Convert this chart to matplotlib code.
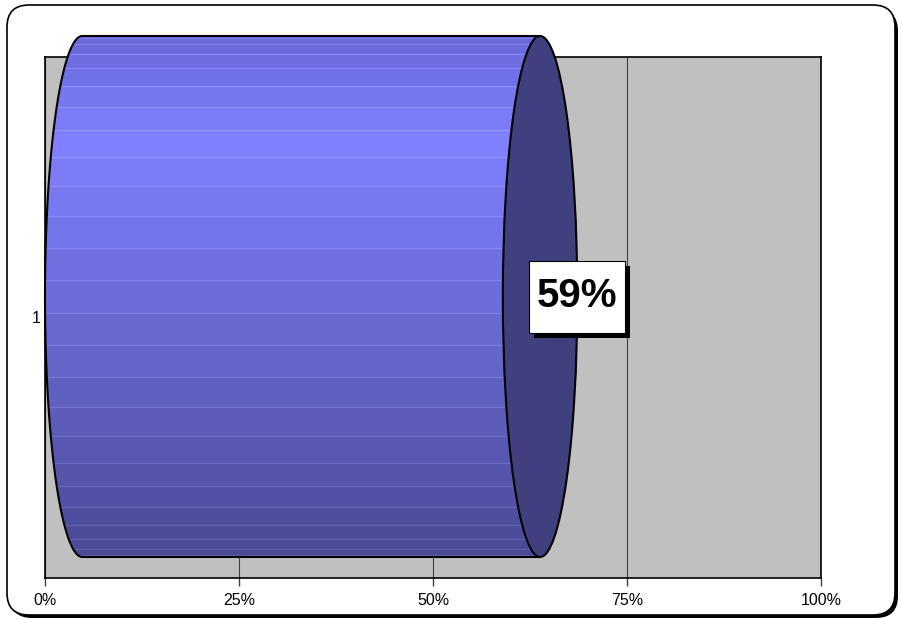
import matplotlib.pyplot as plt
import numpy as np
import matplotlib.transforms as mtransforms
from matplotlib.lines import Line2D
from matplotlib.patches import Ellipse, PathPatch, Rectangle, FancyBboxPatch
from matplotlib.path import Path

plt.rcParams['font.family'] = ['Liberation Sans', 'DejaVu Sans']

categories = ['1']
values = [0.59]
value_labels = ['59%']
x_ticks = [0, 0.25, 0.5, 0.75, 1.0]
x_ticklabels = ['0%', '25%', '50%', '75%', '100%']

fig = plt.figure(figsize=(9.01, 6.19), dpi=100)

# rounded chart border with a little shadow
shadow = FancyBboxPatch((0.10, 0.01), 8.88, 6.09, boxstyle='round,pad=0,rounding_size=0.22',
                        transform=fig.dpi_scale_trans, fc='black', ec='none', zorder=-2)
frame = FancyBboxPatch((0.07, 0.04), 8.88, 6.10, boxstyle='round,pad=0,rounding_size=0.22',
                       transform=fig.dpi_scale_trans, fc='white', ec='black', lw=1.2, zorder=-1)
fig.patches.extend([shadow, frame])

ax = fig.add_axes([0.04994, 0.06624, 0.86126, 0.84168])
ax.set_facecolor('#c0c0c0')
ax.set_xlim(0, 1)
ax.set_ylim(0.5, 1.5)
for s in ax.spines.values():
    s.set_color('black')
    s.set_linewidth(1.2)
    s.set_zorder(1.5)  # the cylinder sits in front of the plot-area border

ax.set_xticks(x_ticks, x_ticklabels)
ax.set_yticks(np.arange(1, len(categories) + 1), categories)
ax.tick_params(axis='x', direction='out', length=6, width=1, color='#404040', pad=5, labelsize=11.5)
ax.tick_params(axis='y', length=0, pad=3, labelsize=11.5)
ax.xaxis.grid(True, color='#404040', lw=0.8)
ax.set_axisbelow(True)

# 3D look: depth offset and ellipse sizes (data units)
dx, dy = 0.048, 0.0403
rx, ry = 0.048, 0.5

# gradient stops, top (0) -> bottom (1)
stops_t = [0.0, 0.2, 0.5, 0.75, 1.0]
stops_c = np.array([[104, 104, 216], [128, 128, 255], [108, 108, 218],
                    [92, 92, 184], [72, 72, 148]]) / 255.0


def shade(t):
    return [np.interp(t, stops_t, stops_c[:, k]) for k in range(3)]


for i, (v, lab) in enumerate(zip(values, value_labels)):
    cy = i + 1 + dy
    x0, x1 = dx, v + dx

    th = np.radians(np.linspace(90, 270, 80))
    verts = list(zip(x0 + rx * np.cos(th), cy + ry * np.sin(th)))
    verts += [(x1, cy - ry), (x1, cy + ry), (x0, cy + ry)]
    codes = [Path.MOVETO] + [Path.LINETO] * (len(verts) - 2) + [Path.CLOSEPOLY]
    body = PathPatch(Path(verts, codes), fc='none', ec='black', lw=1.5,
                     zorder=3, clip_on=False)
    ax.add_patch(body)

    nb = 25
    ang = np.radians(np.linspace(0, 180, nb + 1))
    for k in range(nb):
        ya = cy + ry * np.cos(ang[k])
        yb = cy + ry * np.cos(ang[k + 1])
        t = (1 - np.cos((ang[k] + ang[k + 1]) / 2)) / 2
        band = Rectangle((x0 - rx - 0.01, yb), x1 - x0 + rx + 0.02, ya - yb,
                         fc=shade(t), ec='none', zorder=2)
        band.set_clip_path(body)
        ax.add_patch(band)
        if 0 < k:
            c = np.clip(np.array(shade(t)) + 0.09, 0, 1)
            ln = Line2D([x0 - rx - 0.01, x1], [ya, ya], color=c, lw=0.9, zorder=2.5)
            ln.set_clip_path(body)
            ax.add_line(ln)

    front = Ellipse((x1, cy), 2 * rx, 2 * ry, fc='#40407e', ec='black', lw=1.5,
                    zorder=4, clip_on=False)
    ax.add_patch(front)

    # value label with a drop shadow, sized in inches around the front edge
    trans = fig.dpi_scale_trans + mtransforms.ScaledTranslation(x1 + rx, cy, ax.transData)
    ax.add_patch(Rectangle((-0.43, -0.41), 0.96, 0.72, transform=trans,
                           fc='black', ec='none', zorder=5, clip_on=False))
    ax.add_patch(Rectangle((-0.48, -0.36), 0.96, 0.72, transform=trans,
                           fc='white', ec='black', lw=0.8, zorder=6, clip_on=False))
    ax.text(0, 0.01, lab, transform=trans, ha='center', va='center',
            fontsize=29, fontweight='bold', zorder=7)

fig.savefig('out.png', dpi=100)
